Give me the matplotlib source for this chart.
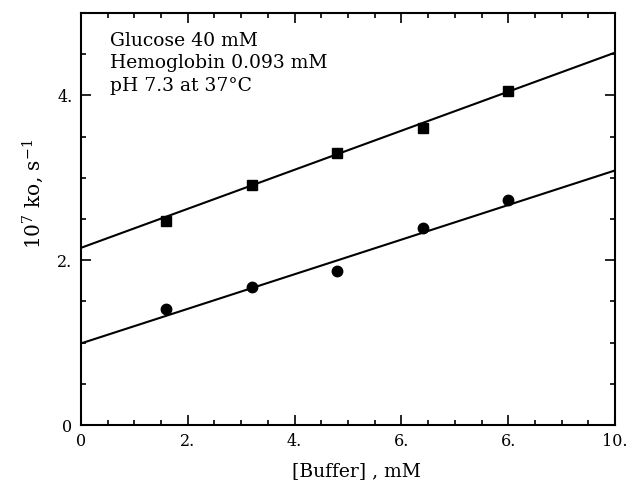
import matplotlib
matplotlib.use("Agg")
import matplotlib.pyplot as plt
import numpy as np
from matplotlib.ticker import MultipleLocator, FixedLocator, FixedFormatter

plt.rcParams['font.family'] = ['DejaVu Serif']
plt.rcParams['mathtext.fontset'] = 'dejavuserif'

# Data
buffer_mM = [1.6, 3.2, 4.8, 6.4, 8.0]
k_squares = [2.48, 2.91, 3.30, 3.60, 4.05]
k_circles = [1.41, 1.67, 1.87, 2.39, 2.73]
# fitted straight lines (intercept, slope)
line_sq = (2.15, 0.237)
line_ci = (0.99, 0.210)

xticks = [0, 2, 4, 6, 8, 10]
xticklabels = ["0", "2.", "4.", "6.", "6.", "10."]
yticks = [0, 2, 4]
yticklabels = ["0", "2.", "4."]
annotation = ["Glucose 40 mM", "Hemoglobin 0.093 mM", "pH 7.3 at 37\u00b0C"]

fig = plt.figure(figsize=(6.27, 4.91), dpi=100)
ax = fig.add_axes([0.129, 0.1344, 0.852, 0.839])

xl = np.array([0, 10])
ax.plot(xl, line_sq[0] + line_sq[1] * xl, color='black', lw=1.5)
ax.plot(xl, line_ci[0] + line_ci[1] * xl, color='black', lw=1.5)
ax.plot(buffer_mM, k_squares, 's', color='black', ms=7)
ax.plot(buffer_mM, k_circles, 'o', color='black', ms=7.5)

ax.set_xlim(0, 10)
ax.set_ylim(0, 5)
ax.xaxis.set_major_locator(FixedLocator(xticks))
ax.xaxis.set_major_formatter(FixedFormatter(xticklabels))
ax.yaxis.set_major_locator(FixedLocator(yticks))
ax.yaxis.set_major_formatter(FixedFormatter(yticklabels))
ax.xaxis.set_minor_locator(MultipleLocator(0.5))
ax.yaxis.set_minor_locator(MultipleLocator(0.5))
ax.tick_params(which='both', direction='in', top=True, right=True, width=1.2,
               labelsize=11.5, pad=6)
ax.tick_params(which='major', length=7)
ax.tick_params(which='minor', length=3.5)
for s in ax.spines.values():
    s.set_linewidth(1.5)

ax.set_xlabel("[Buffer] , mM", fontsize=13.5)
ax.xaxis.set_label_coords(0.515, -0.09)
ax.set_ylabel(r"10$^{7}$ ko, s$^{-1}$", fontsize=14.5)
ax.yaxis.set_label_coords(-0.066, 0.56)

ax.text(0.055, 0.955, "\n".join(annotation), transform=ax.transAxes,
        va='top', ha='left', fontsize=13.5, linespacing=1.35)

fig.savefig("out.png", dpi=100)
